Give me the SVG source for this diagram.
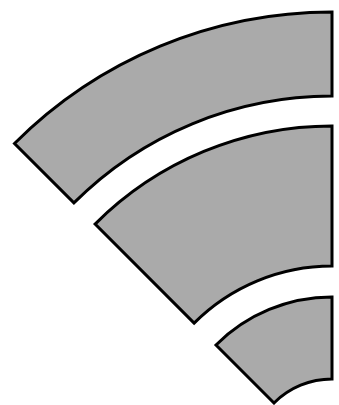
<svg xmlns="http://www.w3.org/2000/svg" width="339" height="405" viewBox="0 0 339 405">
<style>.s{fill:#aaaaaa;stroke:#000;stroke-width:3;stroke-linejoin:miter}</style>
<rect width="339" height="405" fill="#fff"/>
<g id="outer"><path class="s" d="M332,12 A449,449 0 0 0 14.5,143.5 L73.9,202.9 A365,365 0 0 1 332,96 Z"/></g>
<g id="middle"><path class="s" d="M332,126 A335,335 0 0 0 95.1,224.1 L194.1,323.1 A195,195 0 0 1 332,266 Z"/></g>
<g id="inner"><path class="s" d="M332,297 A164,164 0 0 0 216,345 L274,403 A82,82 0 0 1 332,379 Z"/></g>
</svg>
